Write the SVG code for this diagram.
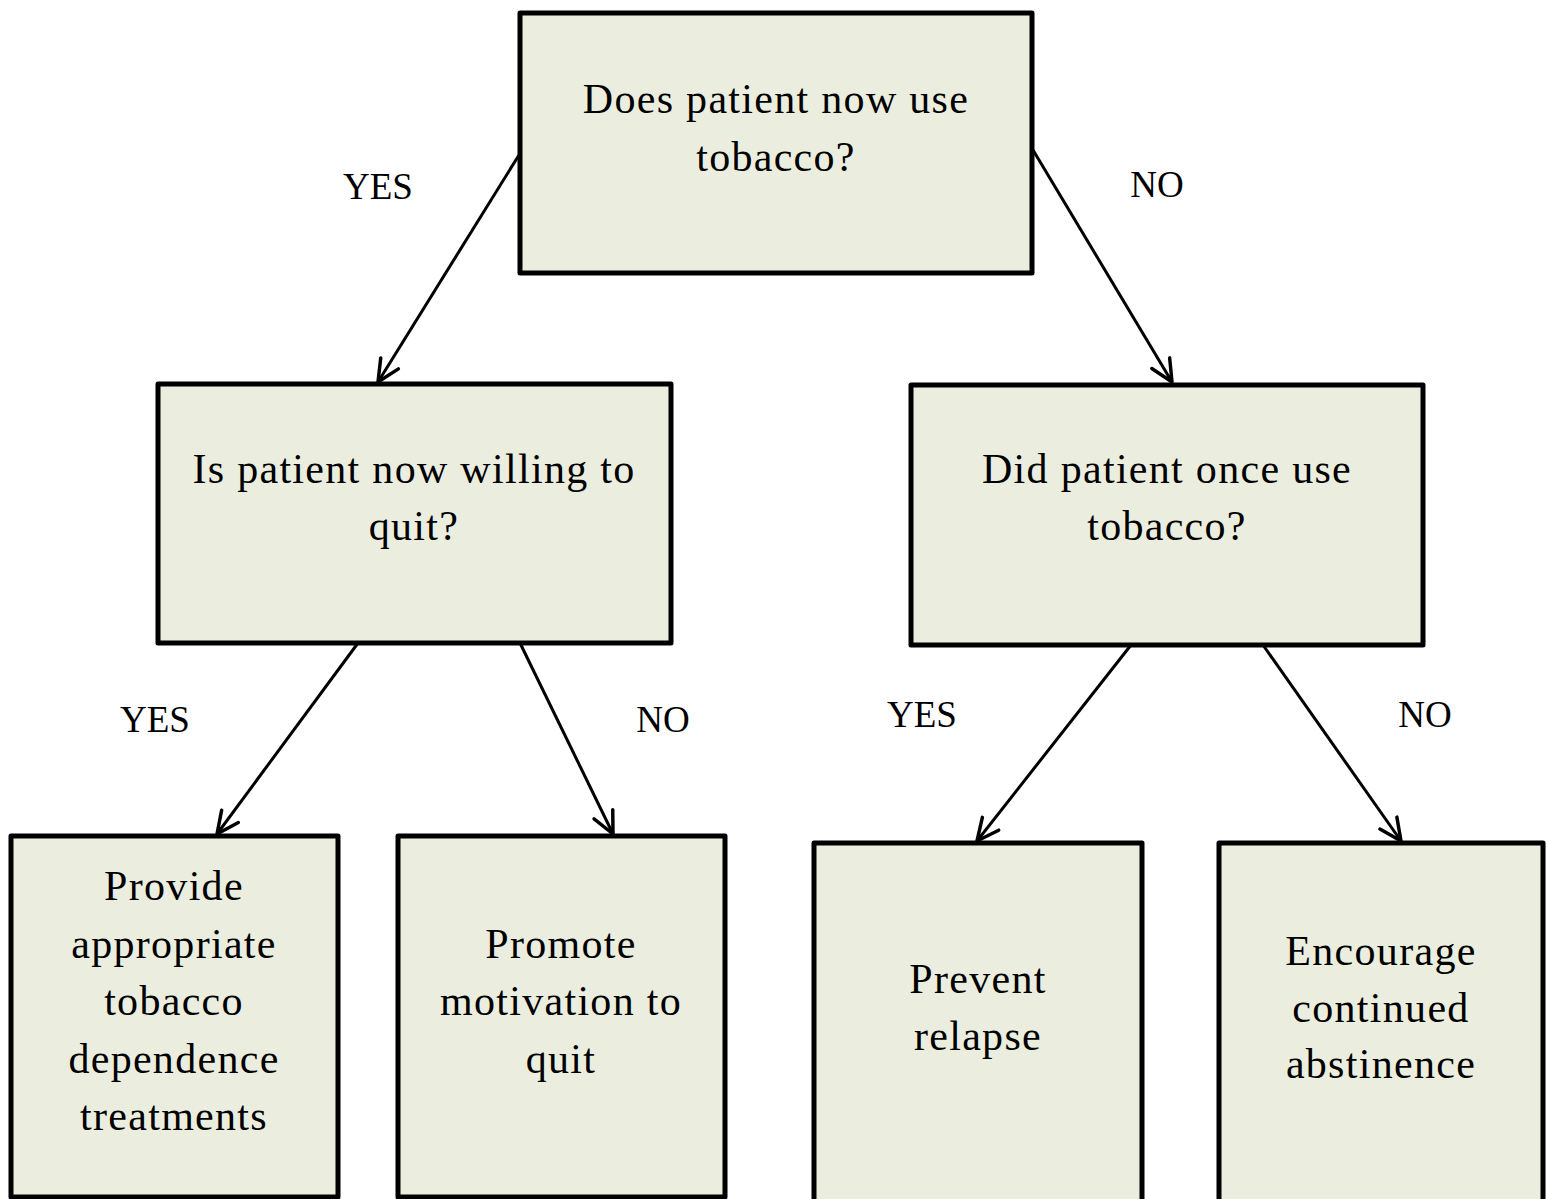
<svg xmlns="http://www.w3.org/2000/svg" width="1546" height="1199" viewBox="0 0 1546 1199">
  <style>
    .box { fill: #ebeedf; stroke: #000; stroke-width: 5; stroke-linejoin: round; }
    .t { font-family: "Liberation Serif", "Times New Roman", serif; font-size: 42px; letter-spacing: 1.3px; fill: #000; text-anchor: middle; }
    .lbl { font-family: "Liberation Serif", "Times New Roman", serif; font-size: 37px; fill: #000; text-anchor: middle; }
    .edge { stroke: #000; stroke-width: 3; fill: none; marker-end: url(#arrow); }
  </style>
  <defs>
    <marker id="arrow" markerUnits="userSpaceOnUse" markerWidth="30" markerHeight="30" viewBox="-22 -12 26 24" refX="0" refY="0" orient="auto">
      <path d="M -19 -9 L 0 0 L -19 9" fill="none" stroke="#000" stroke-width="3" stroke-linecap="round" stroke-linejoin="round"/>
    </marker>
  </defs>

  <!-- connectors -->
  <g id="connectors">
    <line class="edge" x1="519" y1="155" x2="378" y2="382"/>
    <line class="edge" x1="1033" y1="150" x2="1172" y2="382"/>
    <line class="edge" x1="358" y1="643" x2="217" y2="834"/>
    <line class="edge" x1="520" y1="643" x2="613" y2="834"/>
    <line class="edge" x1="1131" y1="645" x2="977" y2="841"/>
    <line class="edge" x1="1263" y1="645" x2="1401" y2="841"/>
    <text class="lbl" x="378" y="199">YES</text>
    <text class="lbl" x="1157" y="197">NO</text>
    <text class="lbl" x="155" y="732">YES</text>
    <text class="lbl" x="663" y="732">NO</text>
    <text class="lbl" x="922" y="727">YES</text>
    <text class="lbl" x="1425" y="727">NO</text>
  </g>

  <!-- decision nodes -->
  <g id="q-current-use">
    <rect class="box" x="520" y="13" width="512" height="260"/>
    <text class="t" x="776" y="113">Does patient now use</text>
    <text class="t" x="776" y="171">tobacco?</text>
  </g>
  <g id="q-willing">
    <rect class="box" x="158" y="384" width="513" height="259"/>
    <text class="t" x="414" y="483">Is patient now willing to</text>
    <text class="t" x="414" y="540">quit?</text>
  </g>
  <g id="q-former-use">
    <rect class="box" x="911" y="385" width="512" height="260"/>
    <text class="t" x="1167" y="483">Did patient once use</text>
    <text class="t" x="1167" y="540">tobacco?</text>
  </g>

  <!-- outcome nodes -->
  <g id="a-treat">
    <rect class="box" x="11" y="836" width="327" height="361"/>
    <text class="t" x="174" y="900">Provide</text>
    <text class="t" x="174" y="958">appropriate</text>
    <text class="t" x="174" y="1015">tobacco</text>
    <text class="t" x="174" y="1073">dependence</text>
    <text class="t" x="174" y="1130">treatments</text>
  </g>
  <g id="a-motivate">
    <rect class="box" x="398" y="836" width="327" height="361"/>
    <text class="t" x="561" y="958">Promote</text>
    <text class="t" x="561" y="1015">motivation to</text>
    <text class="t" x="561" y="1073">quit</text>
  </g>
  <g id="a-relapse">
    <rect class="box" x="814" y="843" width="328" height="370"/>
    <text class="t" x="978" y="993">Prevent</text>
    <text class="t" x="978" y="1050">relapse</text>
  </g>
  <g id="a-abstinence">
    <rect class="box" x="1219" y="843" width="324" height="370"/>
    <text class="t" x="1381" y="965">Encourage</text>
    <text class="t" x="1381" y="1022">continued</text>
    <text class="t" x="1381" y="1078">abstinence</text>
  </g>
</svg>
